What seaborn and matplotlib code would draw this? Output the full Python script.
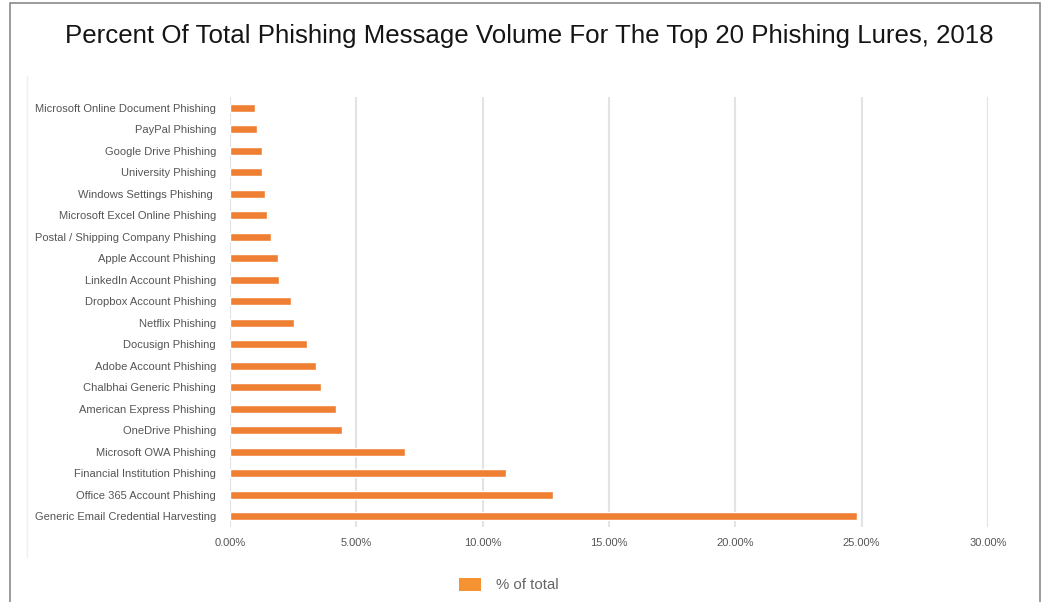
import matplotlib
matplotlib.use("Agg")
import matplotlib.pyplot as plt
import seaborn as sns
import pandas as pd
from matplotlib.patches import Rectangle, Patch
from matplotlib.lines import Line2D
from matplotlib.ticker import FuncFormatter

categories = [
    "Microsoft Online Document Phishing",
    "PayPal Phishing",
    "Google Drive Phishing",
    "University Phishing",
    "Windows Settings Phishing ",
    "Microsoft Excel Online Phishing",
    "Postal / Shipping Company Phishing",
    "Apple Account Phishing",
    "LinkedIn Account Phishing",
    "Dropbox Account Phishing",
    "Netflix Phishing",
    "Docusign Phishing",
    "Adobe Account Phishing",
    "Chalbhai Generic Phishing",
    "American Express Phishing",
    "OneDrive Phishing",
    "Microsoft OWA Phishing",
    "Financial Institution Phishing",
    "Office 365 Account Phishing",
    "Generic Email Credential Harvesting",
]
values = [0.97, 1.08, 1.26, 1.26, 1.40, 1.48, 1.63, 1.88, 1.92, 2.40,
          2.55, 3.06, 3.39, 3.62, 4.21, 4.43, 6.94, 10.92, 12.80, 24.83]
x_ticks = [0, 5, 10, 15, 20, 25, 30]

sns.set_theme(style="white")
plt.rcParams["font.family"] = ["Liberation Sans", "DejaVu Sans"]

df = pd.DataFrame({"lure": categories, "pct": values})

fig = plt.figure(figsize=(10.45, 6.02), dpi=100)
ax = fig.add_axes([230/1045, 75/602, 758/1045, 430/602])

bar_color = "#EE7F33"
sns.barplot(data=df, y="lure", x="pct", orient="h", color=bar_color,
            width=0.35, ax=ax, saturation=1, zorder=3)

ax.set_xlim(0, 30)
ax.set_xticks(x_ticks)
ax.xaxis.set_major_formatter(FuncFormatter(lambda v, p: f"{v:.2f}%"))
ax.set_xlabel("")
ax.set_ylabel("")
ax.grid(axis="x", color="#E3E3E3", linewidth=1.5, zorder=0)
ax.grid(axis="y", visible=False)
for s in ax.spines.values():
    s.set_visible(False)
ax.tick_params(axis="both", length=0, labelsize=8, labelcolor="#555555")
ax.tick_params(axis="y", pad=10)
ax.tick_params(axis="x", pad=8)

fig.text(0.506, 0.94, "Percent Of Total Phishing Message Volume For The Top 20 Phishing Lures, 2018",
         ha="center", va="center", fontsize=18.6, color="#151515")

# legend
handle = Patch(facecolor="#F59232", edgecolor="none", label="% of total")
fig.legend(handles=[handle], loc="center", bbox_to_anchor=(0.487, 1 - 585/602),
           frameon=False, fontsize=10.8, labelcolor="#666666",
           handlelength=1.5, handleheight=1.0, handletextpad=1.0)

# outer frame and inner faint line
fig.add_artist(Rectangle((10/1045, -0.05), 1030/1045, 1.05 - 3/602,
                         transform=fig.transFigure, fill=False,
                         edgecolor="#8A8A8A", linewidth=1.2))
fig.add_artist(Line2D([27/1045, 27/1045], [1 - 557/602, 1 - 76/602],
                      transform=fig.transFigure, color="#EFEFEF", linewidth=1))

fig.savefig("out.png", dpi=100)
